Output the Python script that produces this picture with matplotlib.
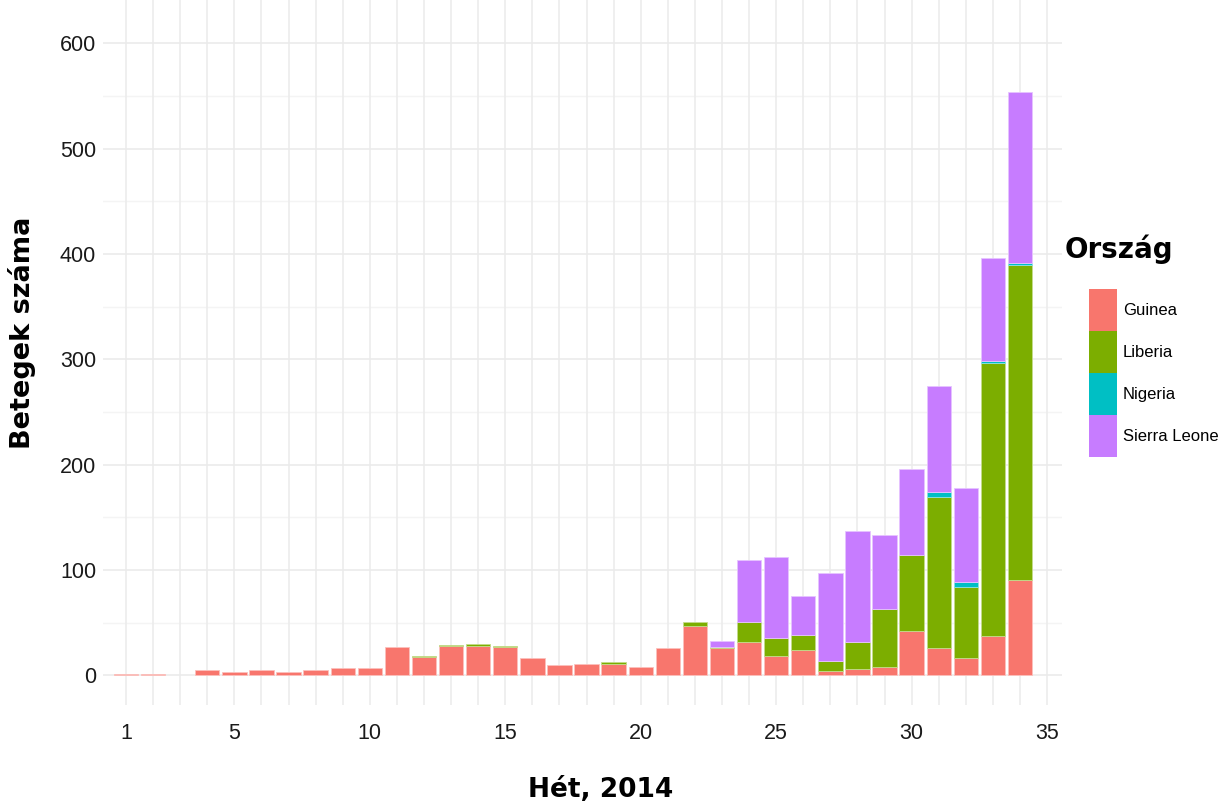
import matplotlib
matplotlib.use("Agg")
import matplotlib.pyplot as plt
from matplotlib import font_manager
from matplotlib.patches import Patch
from matplotlib.colors import to_rgb
import numpy as np

# ---------------------------------------------
# Data: weekly cases per country (2014)
# ---------------------------------------------
weeks = list(range(1, 35))
countries = ["Guinea", "Liberia", "Nigeria", "Sierra Leone"]
colors = ["#F8766D", "#7CAE00", "#00BFC4", "#C77CFF"]

guinea = [1, 1, 0, 5, 3, 5, 3, 5, 7, 7, 27, 17, 28, 28, 27, 16, 10, 11, 11, 8,
          26, 47, 26, 32, 18, 24, 4, 6, 8, 42, 26, 16, 37, 90]
liberia = [0, 0, 0, 0, 0, 0, 0, 0, 0, 0, 0, 1, 1, 2, 1, 0, 0, 0, 2, 0,
           0, 4, 1, 19, 17, 14, 10, 26, 55, 72, 143, 68, 259, 299]
nigeria = [0, 0, 0, 0, 0, 0, 0, 0, 0, 0, 0, 0, 0, 0, 0, 0, 0, 0, 0, 0,
           0, 0, 0, 0, 0, 0, 0, 0, 0, 0, 5, 5, 2, 2]
sierra_leone = [0, 0, 0, 0, 0, 0, 0, 0, 0, 0, 0, 0, 0, 0, 0, 0, 0, 0, 0, 0,
                0, 0, 6, 58, 77, 37, 83, 105, 70, 82, 101, 89, 98, 163]

x_ticks = [1, 5, 10, 15, 20, 25, 30, 35]
y_ticks = [0, 100, 200, 300, 400, 500, 600]


def pick_font(name, fallback):
    try:
        font_manager.findfont(font_manager.FontProperties(family=name),
                              fallback_to_default=False)
        return name
    except Exception:
        return fallback


def tint(c, f=0.55):
    r, g, b = to_rgb(c)
    return (r + (1 - r) * f, g + (1 - g) * f, b + (1 - b) * f)


narrow = pick_font("Liberation Sans Narrow", "Liberation Sans")
tick_size = 18 if narrow == "Liberation Sans Narrow" else 15.5
legend_size = 14.5 if narrow == "Liberation Sans Narrow" else 12

W, H = 1223, 807
fig = plt.figure(figsize=(W / 100, H / 100), dpi=100)
ax = fig.add_axes([103 / W, 102 / H, (1062 - 103) / W, (H - 102) / H])

# grid
for v in range(50, 650, 100):
    ax.axhline(v, color="#F4F4F4", lw=1.0, zorder=0)
for v in y_ticks:
    ax.axhline(v, color="#EBEBEB", lw=1.2, zorder=0)
for w in range(1, 36):
    ax.axvline(w, color="#EBEBEB", lw=1.1, zorder=0)

# stacked bars (zero segments skipped so no stray outlines)
series = [guinea, liberia, nigeria, sierra_leone]
wk = np.array(weeks)
bottom = np.zeros(len(weeks))
for vals, col in zip(series, colors):
    vals = np.array(vals, dtype=float)
    m = vals > 0
    ax.bar(wk[m], vals[m], bottom=bottom[m], width=0.9, color=col,
           edgecolor=tint(col), linewidth=0.6, zorder=2)
    bottom += vals

ax.set_xlim(0.15, 35.55)
ax.set_ylim(-28.2, 641)
ax.set_xticks(x_ticks)
ax.set_yticks(y_ticks)
ax.set_xticklabels([str(t) for t in x_ticks], family=narrow, fontsize=tick_size,
                   color="#1A1A1A")
ax.set_yticklabels([str(t) for t in y_ticks], family=narrow, fontsize=tick_size,
                   color="#1A1A1A")
ax.tick_params(axis="both", length=0)
ax.tick_params(axis="x", pad=13)
ax.tick_params(axis="y", pad=5)
for s in ax.spines.values():
    s.set_visible(False)
ax.set_facecolor("white")

# axis titles
fig.text(601 / W, 1 - 790 / H, "Hét, 2014", ha="center", va="center",
         fontsize=19, fontweight="bold", family="DejaVu Sans")
fig.text(22 / W, 1 - 333 / H, "Betegek száma", ha="center", va="center",
         rotation=90, fontsize=19.5, fontweight="bold", family="DejaVu Sans")

# legend
fig.text(1065 / W, 1 - 249 / H, "Ország", ha="left", va="center",
         fontsize=20, fontweight="bold", family="DejaVu Sans")
handles = [Patch(facecolor=c, edgecolor="none") for c in colors]
fs_px = legend_size * 100 / 72
key_h = 42 / fs_px
fig.legend(handles, countries, loc="upper left",
           bbox_to_anchor=(1089 / W, 1 - 289 / H),
           frameon=False, borderpad=0, borderaxespad=0,
           labelspacing=0, handleheight=(key_h - 0.245) / 0.65,
           handlelength=28 / fs_px, handletextpad=6 / fs_px,
           prop={"family": narrow, "size": legend_size})

fig.savefig("out.png", dpi=100, facecolor="white")
